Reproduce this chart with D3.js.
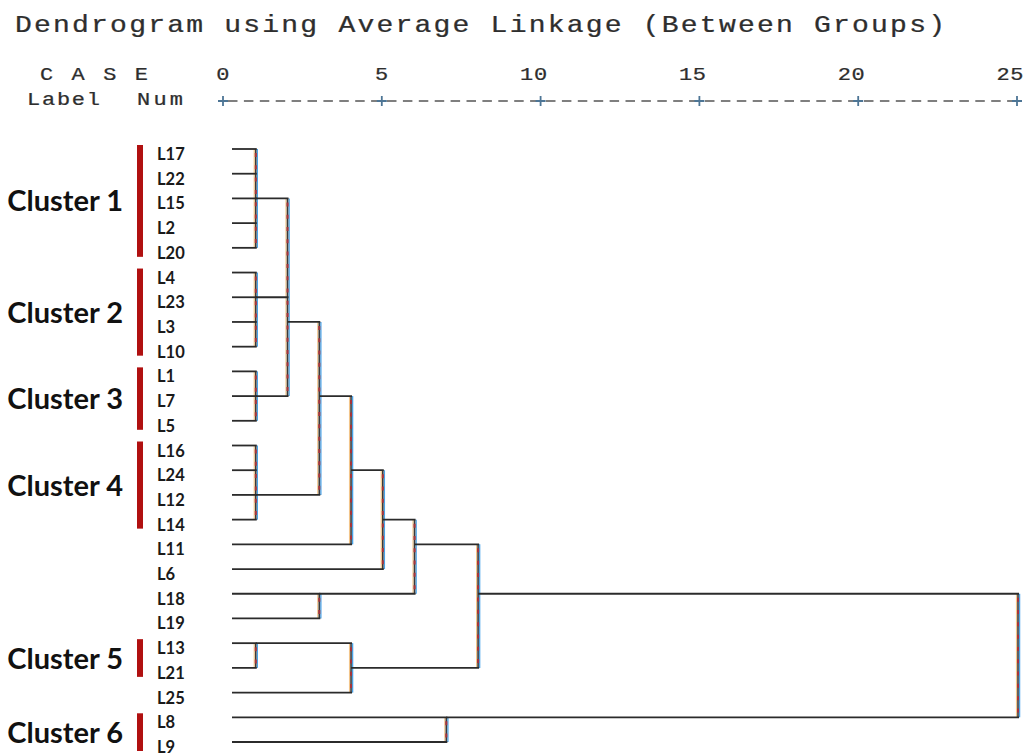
<!DOCTYPE html>
<html>
<head>
<meta charset="utf-8">
<script src="https://cdn.jsdelivr.net/npm/d3@7/dist/d3.min.js"></script>
<style>
  html, body { margin: 0; padding: 0; background: #fff; }
  svg { display: block; }
</style>
</head>
<body>
<svg id="chart" width="1024" height="755"></svg>
<script>
// ---------------- data ----------------
const title = "Dendrogram using Average Linkage (Between Groups)";
const headerTop = ["C A S E"];
const headerBottom = ["Label", "Num"];
const tickValues = [0, 5, 10, 15, 20, 25];

// leaf order top to bottom
const leaves = ["L17","L22","L15","L2","L20","L4","L23","L3","L10","L1","L7","L5",
                "L16","L24","L12","L14","L11","L6","L18","L19","L13","L21","L25","L8","L9"];

// merges (rescaled distance), the leaf row each merged group exits on, and its members
const mergeNames   = ["A","B","C","D","E","ABC","F","ABCD","G","H","I","J","K","M","ROOT"];
const mergeHeights = [1, 1, 1, 1, 1, 2, 3, 3, 4, 4, 5, 6, 7, 8, 25];
const mergeExits   = ["L15","L23","L7","L12","L13","L3","L18","L7","L24","L21","L14","L11","L8","L18","L18"];
const mergeChildren = [
  ["L17","L22","L15","L2","L20"],
  ["L4","L23","L3","L10"],
  ["L1","L7","L5"],
  ["L16","L24","L12","L14"],
  ["L13","L21"],
  ["A","B","C"],
  ["L18","L19"],
  ["ABC","D"],
  ["ABCD","L11"],
  ["E","L25"],
  ["G","L6"],
  ["I","F"],
  ["L8","L9"],
  ["J","H"],
  ["M","K"]
];

const clusterNames = ["Cluster 1","Cluster 2","Cluster 3","Cluster 4","Cluster 5","Cluster 6"];
const clusterMembers = [
  ["L17","L22","L15","L2","L20"],
  ["L4","L23","L3","L10"],
  ["L1","L7","L5"],
  ["L16","L24","L12","L14"],
  ["L13","L21"],
  ["L8","L9"]
];

// ---------------- drawing ----------------
const svg = d3.select("#chart");

const x = d3.scaleLinear().domain([0, 25]).range([224, 1018]);
const y = d3.scalePoint().domain(leaves).range([149, 742]);
const leafStart = x(0) + 8;

const mono = "'Liberation Mono', 'DejaVu Sans Mono', monospace";
const sans = "Lato, 'Open Sans', sans-serif";
const sx = 1.22; // horizontal stretch of the typewriter text

function monoText(str, px, py, size, width, anchor) {
  const t = svg.append("text")
    .attr("transform", `translate(${px},${py}) scale(${sx},1)`)
    .attr("font-family", mono).attr("font-size", size)
    .attr("fill", "#2e2e2e").attr("stroke", "#2e2e2e").attr("stroke-width", 0.25)
    .attr("text-anchor", anchor || "start")
    .text(str);
  if (width) t.attr("textLength", width / sx).attr("lengthAdjust", "spacing");
  return t;
}

// title
monoText(title, 15, 32, 23, 930);

// header labels
monoText(headerTop[0], 40, 80, 18, 108);
monoText(headerBottom[0], 27, 105, 18, 73);
monoText(headerBottom[1], 137, 105, 18, 46);

// axis (SPSS style): tick numbers, dashed rule and plus marks
const ax = x.copy().range([223, 1017]);
const axisY = 101;
tickValues.forEach(v => {
  const s = String(v);
  monoText(s, ax(v) + 6.5, 80, 18, s.length > 1 ? 27 : null, "end");
});

svg.append("line")
  .attr("x1", ax(0) + 5).attr("x2", ax(25) - 5)
  .attr("y1", axisY).attr("y2", axisY)
  .attr("stroke", "#555").attr("stroke-width", 1.6)
  .attr("stroke-dasharray", "9.5,6.4");

svg.append("g").selectAll("path").data(tickValues).join("path")
  .attr("d", d => `M${ax(d) - 5},${axisY}H${ax(d) + 5}M${ax(d)},${axisY - 5}V${axisY + 5}`)
  .attr("stroke", "#4d7595").attr("stroke-width", 1.8).attr("fill", "none");

// build node positions
const nodes = new Map();
leaves.forEach(l => nodes.set(l, { x: leafStart, y: y(l) }));
mergeNames.forEach((name, i) => {
  nodes.set(name, { x: x(mergeHeights[i]), y: y(mergeExits[i]), children: mergeChildren[i] });
});

const gTree = svg.append("g");
const hSegs = [];
const vSegs = [];
mergeNames.forEach(name => {
  const n = nodes.get(name);
  const ys = n.children.map(c => nodes.get(c).y);
  vSegs.push({ x: n.x, y1: d3.min(ys), y2: d3.max(ys) });
  n.children.forEach(c => {
    const cn = nodes.get(c);
    hSegs.push({ x1: cn.x, x2: n.x, y: cn.y });
  });
});

// vertical fringes (scan artefact look): orange left, blue right
gTree.selectAll("line.vo").data(vSegs).join("line")
  .attr("class", "vo")
  .attr("x1", d => d.x - 1.5).attr("x2", d => d.x - 1.5)
  .attr("y1", d => d.y1).attr("y2", d => d.y2)
  .attr("stroke", "#f2c58a").attr("stroke-width", 1.2);
gTree.selectAll("line.vb").data(vSegs).join("line")
  .attr("class", "vb")
  .attr("x1", d => d.x + 1.6).attr("x2", d => d.x + 1.6)
  .attr("y1", d => d.y1).attr("y2", d => d.y2)
  .attr("stroke", "#4aa3e8").attr("stroke-width", 1.3);
gTree.selectAll("line.v").data(vSegs).join("line")
  .attr("class", "v")
  .attr("x1", d => d.x).attr("x2", d => d.x)
  .attr("y1", d => d.y1).attr("y2", d => d.y2)
  .attr("stroke", "#3a3a3a").attr("stroke-width", 1.6);
gTree.selectAll("line.vr").data(vSegs).join("line")
  .attr("class", "vr")
  .attr("x1", d => d.x).attr("x2", d => d.x)
  .attr("y1", d => d.y1 + 4).attr("y2", d => d.y2)
  .attr("stroke", "#a8323a").attr("stroke-width", 2)
  .attr("stroke-dasharray", "4,8.3");

gTree.selectAll("line.h").data(hSegs).join("line")
  .attr("class", "h")
  .attr("x1", d => d.x1).attr("x2", d => d.x2 + 1)
  .attr("y1", d => d.y).attr("y2", d => d.y)
  .attr("stroke", "#2b2b2b").attr("stroke-width", 1.8);

// leaf labels
svg.append("g").selectAll("text").data(leaves).join("text")
  .attr("x", 157)
  .attr("y", d => y(d) + 11)
  .attr("font-family", sans).attr("font-weight", 700).attr("font-size", 16.5)
  .attr("fill", "#1a1a1a")
  .text(d => d);

// cluster bars and names
const gCl = svg.append("g");
clusterMembers.forEach((mem, i) => {
  const ys = mem.map(m => y(m));
  gCl.append("rect")
    .attr("x", 137).attr("width", 6)
    .attr("y", d3.min(ys) - 4)
    .attr("height", d3.max(ys) - d3.min(ys) + 13)
    .attr("fill", "#b01010");
  gCl.append("text")
    .attr("x", 123)
    .attr("y", d3.mean(ys) + 13)
    .attr("text-anchor", "end")
    .attr("font-family", sans).attr("font-weight", 700).attr("font-size", 29)
    .attr("fill", "#111")
    .text(clusterNames[i]);
});
</script>
</body>
</html>
